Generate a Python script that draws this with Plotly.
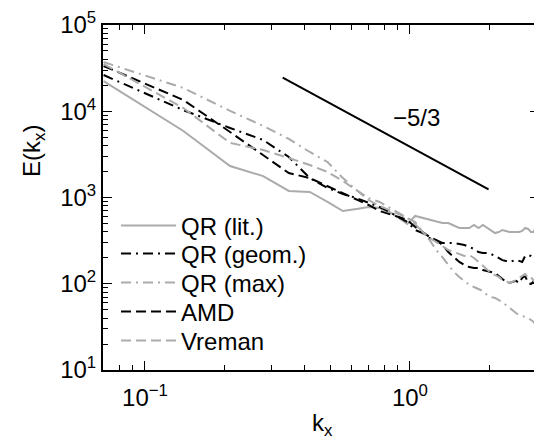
import plotly.graph_objects as go

# wavenumbers k_x = n * k0, n = 1..44
k0 = 0.0698
kx = [n * k0 for n in range(1, 45)]

E_lit = [22400, 5900, 2320, 1770, 1190, 1160, 887, 697, 736, 776, 755, 679, 578, 493, 611,
         578, 548, 520, 506, 506, 468, 443, 443, 443, 480, 443, 480, 443, 420, 387,
         398, 420, 409, 398, 398, 398, 398, 409, 443, 432, 398, 398, 480, 420]
E_geom = [26300, 10300, 6400, 4640, 2950, 1680, 1290, 1100, 986, 863, 776, 679, 594, 520, 420,
          387, 339, 321, 297, 297, 297, 289, 281, 267, 253, 233, 227, 227, 221, 210,
          199, 188, 184, 179, 184, 188, 184, 179, 210, 215, 210, 199, 215, 210]
E_max = [37200, 18600, 10100, 6750, 4770, 3370, 2580, 1680, 1220, 986, 887, 755, 661, 578, 493,
         398, 321, 246, 204, 165, 137, 120, 108, 96.8, 91.7, 86.9, 82.4, 74.1, 70.2, 68.4,
         64.9, 61.5, 56.8, 52.4, 49.7, 45.8, 43.5, 42.3, 41.2, 40.1, 38.0, 36.0, 32.4, 29.1]
E_amd = [33500, 13500, 5750, 3110, 1920, 1680, 1360, 1130, 961, 819, 697, 644, 594, 548, 455,
         398, 348, 321, 281, 233, 204, 179, 165, 156, 152, 152, 144, 141, 137, 133,
         123, 114, 105, 102, 105, 108, 102, 117, 123, 102, 99.3, 108, 114, 99.3]
E_vreman = [35300, 10900, 4290, 3560, 2870, 2380, 1980, 1550, 1220, 935, 797, 716, 644, 578, 520,
            398, 339, 305, 274, 246, 233, 221, 210, 215, 199, 179, 161, 144, 133, 126,
            120, 110, 108, 102, 105, 110, 117, 123, 130, 117, 120, 108, 110, 102]

slope_x = [0.331, 1.98]
slope_y = [24500, 1245]
slope_label = "\u22125/3"

names = ["QR (lit.)", "QR (geom.)", "QR (max)", "AMD", "Vreman"]

GRAY = "#ababab"
BLACK = "#000000"
DASH = "10px,5px"
DASHDOT = "10px,5px,2px,5px"

series = [
    (names[0], E_lit, GRAY, "solid"),
    (names[1], E_geom, BLACK, DASHDOT),
    (names[2], E_max, GRAY, DASHDOT),
    (names[3], E_amd, BLACK, DASH),
    (names[4], E_vreman, GRAY, DASH),
]

FONT = "Liberation Sans, Arial, Helvetica, sans-serif"
FS = 24

# page body has an 8px margin: the figure is offset by (8, 8) on screen
OFF = 8
W, H = 542 - OFF, 444 - OFF
PL, PR, PT, PB = 103, 539, 25, 370          # plot area on screen
ml, mt = PL - OFF, PT - OFF
pw, ph = PR - PL, PB - PT
mr = W - ml - pw
mb = H - mt - ph


def px2paper_x(sx):
    return (sx - PL) / pw


def px2paper_y(sy):
    return (PB - sy) / ph


legend_ids = ["legend", "legend2", "legend3", "legend4", "legend5"]
legend_centers = [226, 254, 283, 312, 341]

fig = go.Figure()
for (name, ys, col, dash), lid in zip(series, legend_ids):
    fig.add_trace(go.Scatter(x=kx, y=ys, mode="lines", name=name, legend=lid,
                             line=dict(color=col, width=2, dash=dash)))

fig.add_trace(go.Scatter(x=slope_x, y=slope_y, mode="lines", showlegend=False,
                         line=dict(color="black", width=2)))

x_minor = [0.07, 0.08, 0.09, 0.2, 0.3, 0.4, 0.5, 0.6, 0.7, 0.8, 0.9, 2, 3]
y_minor = [m * 10 ** e for e in range(1, 5) for m in range(2, 10)]

axis_common = dict(showline=True, linecolor="black", linewidth=2, mirror="allticks",
                   ticks="inside", ticklen=9, tickwidth=1.2, tickcolor="black",
                   showgrid=False, zeroline=False,
                   tickfont=dict(size=FS, color="black", family=FONT))

fig.update_xaxes(type="log", range=[-1.1585, 0.4871],
                 tickmode="array", tickvals=[0.1, 1],
                 ticktext=["10<sup>\u22121</sup>", "10<sup>0</sup>"],
                 ticklabelstandoff=5,
                 minor=dict(ticks="inside", ticklen=5, tickwidth=1.2, tickcolor="black",
                            tickmode="array", tickvals=x_minor, showgrid=False),
                 **axis_common)
fig.update_yaxes(type="log", range=[1, 5],
                 tickmode="array", tickvals=[10, 100, 1000, 10000, 100000],
                 ticktext=["10<sup>1</sup>", "10<sup>2</sup>", "10<sup>3</sup>",
                           "10<sup>4</sup>", "10<sup>5</sup>"],
                 minor=dict(ticks="inside", ticklen=5, tickwidth=1.2, tickcolor="black",
                            tickmode="array", tickvals=y_minor, showgrid=False),
                 **axis_common)

fig.add_annotation(x=0.025, y=3.933, xref="x", yref="y", text=slope_label,
                   showarrow=False, xanchor="center", yanchor="middle",
                   font=dict(size=FS, color="black", family=FONT))
fig.add_annotation(x=px2paper_x(33), y=px2paper_y(151), xref="paper", yref="paper",
                   text="E(k<sub>x</sub>)", showarrow=False, textangle=-90,
                   xanchor="center", yanchor="middle",
                   font=dict(size=FS, color="black", family=FONT))
fig.add_annotation(x=px2paper_x(322), y=px2paper_y(424), xref="paper", yref="paper",
                   text="k<sub>x</sub>", showarrow=False,
                   xanchor="center", yanchor="middle",
                   font=dict(size=FS, color="black", family=FONT))

legend_layout = {}
for lid, yc in zip(legend_ids, legend_centers):
    legend_layout[lid] = dict(x=px2paper_x(116), y=px2paper_y(yc),
                              xanchor="left", yanchor="middle",
                              bgcolor="rgba(0,0,0,0)", borderwidth=0, itemwidth=55,
                              font=dict(size=FS, color="black", family=FONT))

fig.update_layout(
    width=W, height=H,
    margin=dict(l=ml, r=mr, t=mt, b=mb, autoexpand=False),
    paper_bgcolor="white", plot_bgcolor="white",
    font=dict(family=FONT, size=FS, color="black"),
    **legend_layout,
)

fig.write_html("out.html")
